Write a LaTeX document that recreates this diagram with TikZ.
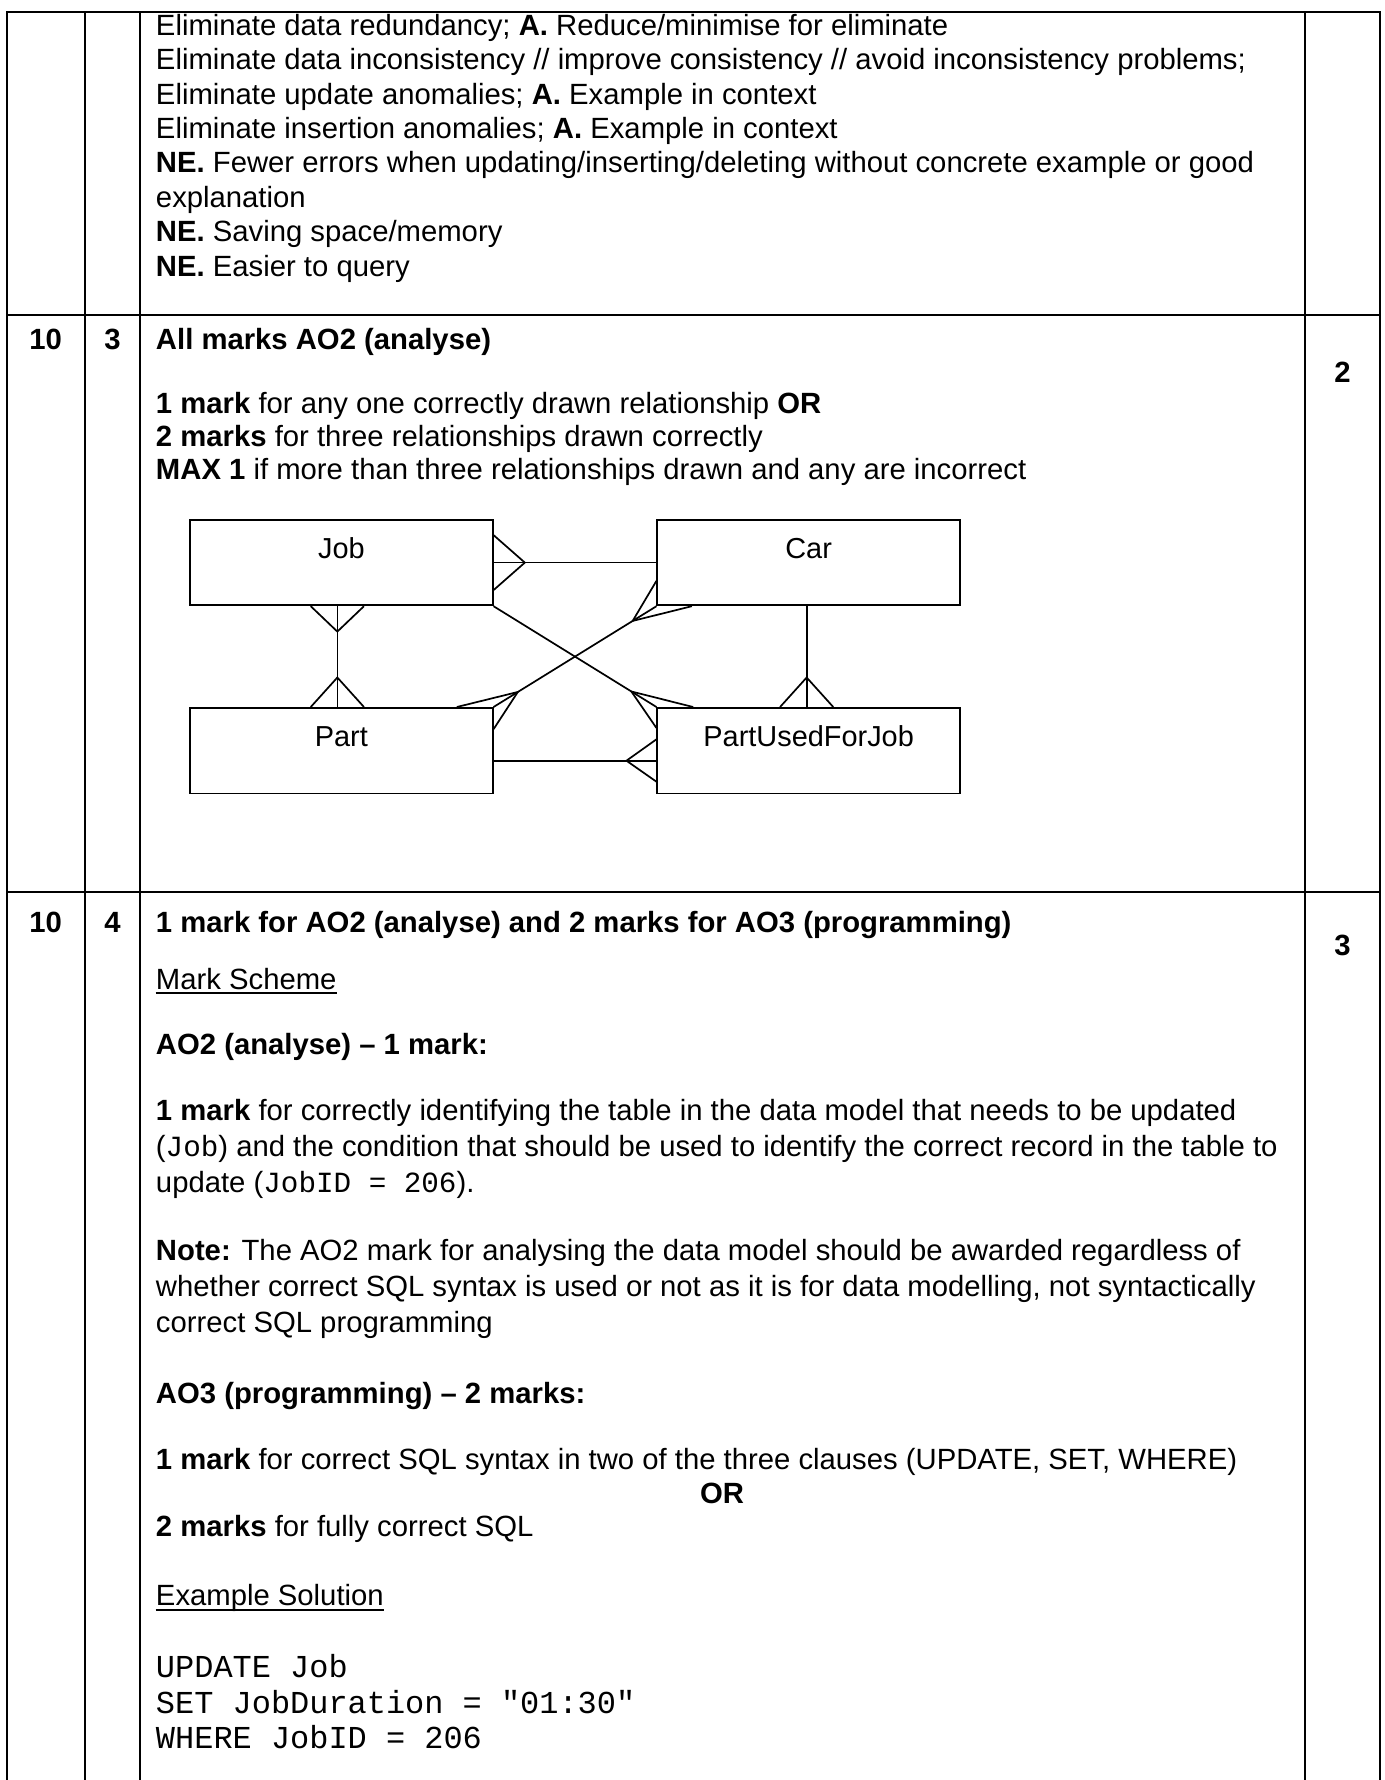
\documentclass[tikz,border=0pt]{standalone}
\usepackage{fontspec}
\setmainfont{Liberation Sans}
\setmonofont{Liberation Mono}
\usetikzlibrary{calc}
\begin{document}
\begin{tikzpicture}[x=0.41pt,y=-0.41pt,
  tl/.style={line width=0.82pt},
  er/.style={line width=0.7pt},
  txt/.style={anchor=base west, inner sep=0pt, font=\fontsize{12}{14}\selectfont},
  num/.style={anchor=base, inner sep=0pt, font=\fontsize{12}{14}\selectfont\bfseries},
  code/.style={anchor=base west, inner sep=0pt, font=\fontsize{13.1}{15}\selectfont\ttfamily},
  erbox/.style={draw, line width=0.7pt, minimum width=124.1pt, minimum height=35.05pt, inner sep=0pt},
  erlbl/.style={anchor=base, inner sep=0pt, font=\fontsize{11.85}{14}\selectfont},
  uline/.style={line width=0.85pt}]
\useasboundingbox (0,0) rectangle (1384,1780);
\fill[white] (0,0) rectangle (1384,1780);
% ---------- table grid ----------
\draw[tl] (7.3,1780) -- (7.3,11.7) -- (1380,11.7) -- (1380,1780);
\draw[tl] (85,11.7) -- (85,1780);
\draw[tl] (140,11.7) -- (140,1780);
\draw[tl] (1305.3,11.7) -- (1305.3,1780);
\draw[tl] (7.3,315) -- (1380,315);
\draw[tl] (7.3,892) -- (1380,892);
% ---------- row 1 ----------
\node[txt] (a1) at (155.5,35.5) {Eliminate data redundancy; \textbf{A.} Reduce/minimise for eliminate};
\node[txt] (a2) at (155.5,69.9) {Eliminate data inconsistency // improve consistency // avoid inconsistency problems;};
\node[txt] (a3) at (155.5,104.2) {Eliminate update anomalies; \textbf{A.} Example in context};
\node[txt] (a4) at (155.5,138.6) {Eliminate insertion anomalies; \textbf{A.} Example in context};
\node[txt] (a5) at (155.5,172.9) {\textbf{NE.} Fewer errors when updating/inserting/deleting without concrete example or good};
\node[txt] (a6) at (155.5,207.3) {explanation};
\node[txt] (a7) at (155.5,241.7) {\textbf{NE.} Saving space/memory};
\node[txt] (a8) at (155.5,276) {\textbf{NE.} Easier to query};
% ---------- row 2 ----------
\node[num] (q2) at (45.6,349) {10};
\node[num] (p2) at (112.5,349) {3};
\node[txt,font=\fontsize{12}{14}\selectfont\bfseries] (b1) at (155.5,349) {All marks AO2 (analyse)};
\node[num] (m2) at (1342.6,382) {2};
\node[txt] (b2) at (155.5,413.5) {\textbf{1 mark} for any one correctly drawn relationship \textbf{OR}};
\node[txt] (b3) at (155.5,446.5) {\textbf{2 marks} for three relationships drawn correctly};
\node[txt] (b4) at (155.5,479.5) {\textbf{MAX 1} if more than three relationships drawn and any are incorrect};
% ---------- ER diagram ----------
\node[erbox] (job) at (341.35,562.6) {};
\node[erbox] (car) at (808.65,562.6) {};
\node[erbox] (part) at (341.35,750.6) {};
\node[erbox] (pufj) at (808.65,750.6) {};
\node[erlbl] (jobt) at ($(job.north)+(0,39.4)$) {Job};
\node[erlbl] (cart) at ($(car.north)+(0,39.4)$) {Car};
\node[erlbl] (partt) at ($(part.north)+(0,39.4)$) {Part};
\node[erlbl] (pufjt) at ($(pufj.north)+(0,39.4)$) {PartUsedForJob};
% Job - Car
\draw[er] (job.east) -- (car.west);
\draw[er] ($(job.east)+(0,-27.5)$) -- ($(job.east)+(31.3,0)$) -- ($(job.east)+(0,27.5)$);
% Job - Part
\draw[er] ($(job.south)+(-4,0)$) -- ($(part.north)+(-4,0)$);
\draw[er] ($(job.south)+(-30.6,0)$) -- ($(job.south)+(-4,25.4)$) -- ($(job.south)+(22.6,0)$);
\draw[er] ($(part.north)+(-30.6,0)$) -- ($(part.north)+(-4,-29.5)$) -- ($(part.north)+(22.6,0)$);
% Car - PartUsedForJob
\draw[er] ($(car.south)+(-2,0)$) -- ($(pufj.north)+(-2,0)$);
\draw[er] ($(pufj.north)+(-28.6,0)$) -- ($(pufj.north)+(-2,-29.5)$) -- ($(pufj.north)+(24.6,0)$);
% Part - PartUsedForJob
\draw[er] ($(part.east)+(0,10.1)$) -- ($(pufj.west)+(0,10.1)$);
\draw[er] ($(pufj.west)+(0,-11.3)$) -- ($(pufj.west)+(-30,10.1)$) -- ($(pufj.west)+(0,31.1)$);
% Job - PartUsedForJob (diagonal)
\draw[er] (job.south east) -- (pufj.north west);
\coordinate (h1) at ($(pufj.north west)!0.154!(job.south east)$);
\draw[er] ($(pufj.north west)+(36.7,0)$) -- (h1) -- ($(pufj.north west)+(0,21)$);
% Part - Car (diagonal)
\draw[er] (part.north east) -- (car.south west);
\coordinate (h2) at ($(car.south west)!0.146!(part.north east)$);
\draw[er] ($(car.south west)+(0,-25.35)$) -- (h2) -- ($(car.south west)+(35.4,0)$);
\coordinate (h3) at ($(part.north east)!0.149!(car.south west)$);
\draw[er] ($(part.north east)+(-36.7,0)$) -- (h3) -- ($(part.north east)+(0,22.2)$);
% ---------- row 3 ----------
\node[num] (q3) at (45.6,932.5) {10};
\node[num] (p3) at (112.5,932.5) {4};
\node[txt,font=\fontsize{12}{14}\selectfont\bfseries] (c1) at (155.5,932.5) {1 mark for AO2 (analyse) and 2 marks for AO3 (programming)};
\node[num] (m3) at (1342.6,955) {3};
\node[txt] (ms) at (155.5,989) {Mark Scheme};
\draw[uline] ([yshift=-1.7pt]ms.base west) -- ([yshift=-1.7pt]ms.base east);
\node[txt,font=\fontsize{12}{14}\selectfont\bfseries] (c2) at (155.5,1054) {AO2 (analyse) – 1 mark:};
\node[txt] (c3) at (155.5,1120) {\textbf{1 mark} for correctly identifying the table in the data model that needs to be updated};
\node[txt] (c4) at (155.5,1156) {(\texttt{Job}) and the condition that should be used to identify the correct record in the table to};
\node[txt] (c5) at (155.5,1192) {update (\texttt{JobID = 206}).};
\node[txt] (c6) at (155.5,1260) {\textbf{Note:} The AO2 mark for analysing the data model should be awarded regardless of};
\node[txt] (c7) at (155.5,1296) {whether correct SQL syntax is used or not as it is for data modelling, not syntactically};
\node[txt] (c8) at (155.5,1332) {correct SQL programming};
\node[txt,font=\fontsize{12}{14}\selectfont\bfseries] (c9) at (155.5,1403.6) {AO3 (programming) – 2 marks:};
\node[txt] (c10) at (155.5,1469.5) {\textbf{1 mark} for correct SQL syntax in two of the three clauses (UPDATE, SET, WHERE)};
\node[num] (c11) at (722,1503) {OR};
\node[txt] (c12) at (155.5,1536.5) {\textbf{2 marks} for fully correct SQL};
\node[txt] (es) at (155.5,1605.7) {Example Solution};
\draw[uline] ([yshift=-1.7pt]es.base west) -- ([yshift=-1.7pt]es.base east);
\node[code] (s1) at (155.5,1677) {UPDATE Job};
\node[code] (s2) at (155.5,1713) {SET JobDuration = "01:30"};
\node[code] (s3) at (155.5,1748.5) {WHERE JobID = 206};
\end{tikzpicture}
\end{document}
